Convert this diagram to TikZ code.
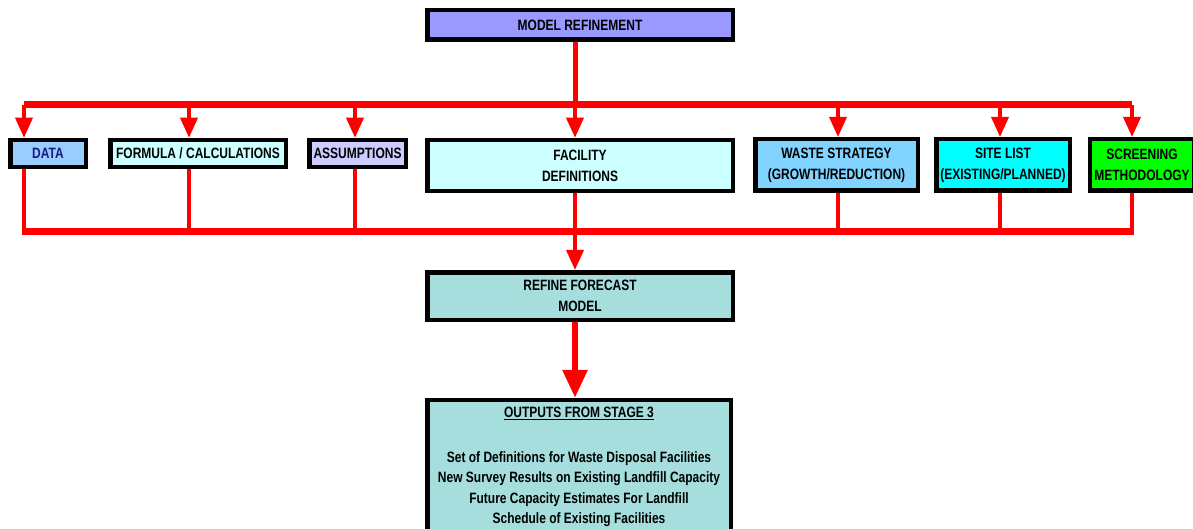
\documentclass[tikz,border=0pt]{standalone}
\usepackage{fontspec}
\setmainfont{Liberation Sans}
\newfontfamily\narrowf[FakeStretch=0.8]{Liberation Sans}
\usetikzlibrary{arrows.meta}
\definecolor{lav}{HTML}{9999FF}
\definecolor{ltblue}{HTML}{99CCFF}
\definecolor{ltcyan}{HTML}{CCFFFF}
\definecolor{ltlav}{HTML}{CCCCFF}
\definecolor{wblue}{HTML}{80D4FF}
\definecolor{cyanx}{HTML}{00FFFF}
\definecolor{greenx}{HTML}{00FF00}
\definecolor{teal1}{HTML}{A6DEDE}
\definecolor{navyt}{HTML}{1A1A80}
\begin{document}
\begin{tikzpicture}[x=1pt,y=-1pt,
  box/.style={draw=black, line width=4.5pt, inner sep=0pt, anchor=center,
    font=\narrowf\bfseries\fontsize{15}{21}\selectfont, align=center, text=black},
  bus/.style={draw=red, line width=7pt},
  stem/.style={draw=red, line width=3.5pt},
  arr/.style={draw=red, line width=3.5pt, -{Triangle[length=20pt,width=17pt]}},
  bigarr/.style={draw=red, line width=6pt, -{Triangle[length=28pt,width=24pt]}}]
\useasboundingbox (0,0) rectangle (1193,529);
\clip (0,0) rectangle (1193,529);

% nodes
\node[box, fill=lav, minimum width=305.5pt, minimum height=29.5pt] (top) at (580,25) {MODEL REFINEMENT};
\node[box, fill=ltblue, text=navyt, minimum width=75.5pt, minimum height=27pt] (data) at (48,153.5) {DATA};
\node[box, fill=ltcyan, minimum width=175.5pt, minimum height=27pt] (formula) at (198,153.5) {FORMULA / CALCULATIONS};
\node[box, fill=ltlav, minimum width=96.5pt, minimum height=27pt] (assump) at (357.5,153.5) {ASSUMPTIONS};
\node[box, fill=ltcyan, minimum width=305.5pt, minimum height=51pt] (facility) at (580,165.5) {FACILITY\\DEFINITIONS};
\node[box, fill=wblue, minimum width=162.5pt, minimum height=51.5pt] (waste) at (836.5,165) {WASTE STRATEGY\\(GROWTH/REDUCTION)};
\node[box, fill=cyanx, minimum width=133.5pt, minimum height=51.5pt] (site) at (1003,165) {SITE LIST\\(EXISTING/PLANNED)};
\node[box, fill=greenx, minimum width=104pt, minimum height=51.5pt] (screen) at (1142,165) {SCREENING\\METHODOLOGY};
\node[box, fill=teal1, minimum width=305.5pt, minimum height=47.5pt] (refine) at (580,296) {REFINE FORECAST\\MODEL};
\node[box, fill=teal1, minimum width=303.5pt, minimum height=134pt, font=\narrowf\bfseries\fontsize{15}{20.5}\selectfont] (output) at (579,467)
  {\underline{OUTPUTS FROM STAGE 3}\\[24pt]
   Set of Definitions for Waste Disposal Facilities\\
   New Survey Results on Existing Landfill Capacity\\
   Future Capacity Estimates For Landfill\\
   Schedule of Existing Facilities};

% top bus
\coordinate (t0) at (575,105);
\coordinate (t1) at (24,105);
\coordinate (t2) at (189,105);
\coordinate (t3) at (355,105);
\coordinate (t5) at (838,105);
\coordinate (t6) at (1000,105);
\coordinate (t7) at (1132,105);
\draw[draw=red, line width=5pt] (top.south -| t0) -- (t0);
\draw[bus] (t1) -- (t7);
\draw[arr] (t1) -- (t1 |- data.north);
\draw[arr] (t2) -- (t2 |- formula.north);
\draw[arr] (t3) -- (t3 |- assump.north);
\draw[arr] (t0) -- (t0 |- facility.north);
\draw[arr] (t5) -- (t5 |- waste.north);
\draw[arr] (t6) -- (t6 |- site.north);
\draw[arr] (t7) -- (t7 |- screen.north);

% bottom bus
\coordinate (b0) at (575,232);
\coordinate (b1) at (24,232);
\coordinate (b2) at (189,232);
\coordinate (b3) at (355,232);
\coordinate (b5) at (838,232);
\coordinate (b6) at (1000,232);
\coordinate (b7) at (1132,232);
\draw[stem] (b1 |- data.south) -- (b1);
\draw[stem] (b2 |- formula.south) -- (b2);
\draw[stem] (b3 |- assump.south) -- (b3);
\draw[stem] (b0 |- facility.south) -- (b0);
\draw[stem] (b5 |- waste.south) -- (b5);
\draw[stem] (b6 |- site.south) -- (b6);
\draw[stem] (b7 |- screen.south) -- (b7);
\draw[bus] ([xshift=-1.75pt]b1) -- ([xshift=1.75pt]b7);
\draw[arr] (b0) -- (b0 |- refine.north);

% refine to output
\draw[bigarr] (refine.south -| b0) -- (output.north -| b0);
\end{tikzpicture}
\end{document}
